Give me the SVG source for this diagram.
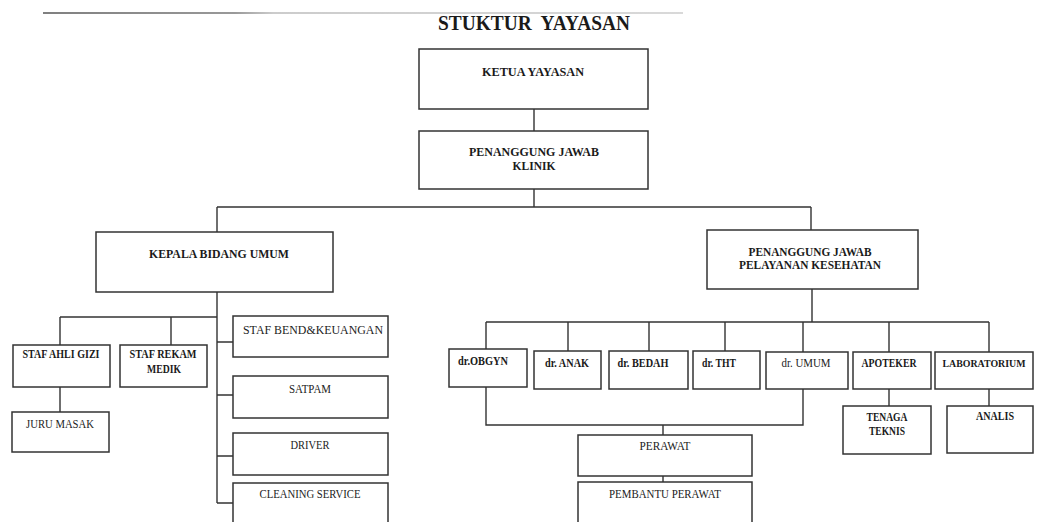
<svg xmlns="http://www.w3.org/2000/svg" width="1043" height="522" viewBox="0 0 1043 522">
<defs>
<linearGradient id="tl" gradientUnits="userSpaceOnUse" x1="43" y1="13" x2="683" y2="13">
<stop offset="0" stop-color="#555"/>
<stop offset="0.3" stop-color="#777"/>
<stop offset="0.36" stop-color="#bbb"/>
<stop offset="1" stop-color="#ccc"/>
</linearGradient>
</defs>
<style>
.box{fill:#fff;stroke:#333;stroke-width:1.5}
.ln{stroke:#333;stroke-width:1.4;fill:none}
text{font-family:"Liberation Serif","Times New Roman",serif;font-size:12.5px;fill:#1a1a1a;font-weight:bold;text-anchor:middle}
.lt{font-weight:normal;fill:#222}
.title{font-size:20px}
.sm{font-size:10.5px}
</style>
<rect width="1043" height="522" fill="#fff"/>
<line x1="43" y1="13" x2="683" y2="13" stroke="url(#tl)" stroke-width="1.3"/>
<text class="title" x="534" y="30" textLength="192" lengthAdjust="spacingAndGlyphs">STUKTUR&#160; YAYASAN</text>

<g id="connectors" class="ln">
<path d="M534 109V131M534 189V207M217 207H811M217 207V232M217 292V503"/>
<path d="M60 317H217M60 317V345M171 317V345M60 387V412"/>
<path d="M217 342H233M217 395H233M217 456H233M217 503H233"/>
<path d="M811 207V230M812 289V322M486 322H989"/>
<path d="M486 322V349M568 322V351M649 322V351M725 322V351M803 322V352M889 322V352M989 322V352"/>
<path d="M486 387V425H803V389M663 425V435M663 476V482"/>
<path d="M889 389V406M989 389V406"/>
</g>

<g id="ketua"><rect class="box" x="419" y="49" width="229" height="60"/><text x="533" y="76" textLength="102" lengthAdjust="spacingAndGlyphs">KETUA YAYASAN</text></g>
<g id="pj-klinik"><rect class="box" x="419" y="131" width="229" height="58"/><text x="534" y="156" textLength="130" lengthAdjust="spacingAndGlyphs">PENANGGUNG JAWAB</text><text x="534" y="170" textLength="43" lengthAdjust="spacingAndGlyphs">KLINIK</text></g>
<g id="kepala-umum"><rect class="box" x="96" y="232" width="237" height="60"/><text x="219" y="258" textLength="140" lengthAdjust="spacingAndGlyphs">KEPALA BIDANG UMUM</text></g>
<g id="ahli-gizi"><rect class="box" x="13" y="345" width="97" height="42"/><text x="61" y="358" textLength="77" lengthAdjust="spacingAndGlyphs">STAF AHLI GIZI</text></g>
<g id="rekam-medik"><rect class="box" x="120" y="345" width="87" height="42"/><text x="163" y="358" textLength="67" lengthAdjust="spacingAndGlyphs">STAF REKAM</text><text x="164" y="373" textLength="34" lengthAdjust="spacingAndGlyphs">MEDIK</text></g>
<g id="juru-masak"><rect class="box" x="12" y="412" width="97" height="40"/><text class="lt" x="60" y="428" textLength="68" lengthAdjust="spacingAndGlyphs">JURU MASAK</text></g>
<g id="bend"><rect class="box" x="233" y="316" width="155" height="41"/><text class="lt" x="313" y="334" textLength="140" lengthAdjust="spacingAndGlyphs">STAF BEND&amp;KEUANGAN</text></g>
<g id="satpam"><rect class="box" x="233" y="376" width="155" height="42"/><text class="lt" x="310" y="393" textLength="42" lengthAdjust="spacingAndGlyphs">SATPAM</text></g>
<g id="driver"><rect class="box" x="233" y="433" width="155" height="42"/><text class="lt" x="310" y="449" textLength="39" lengthAdjust="spacingAndGlyphs">DRIVER</text></g>
<g id="cleaning"><rect class="box" x="233" y="483" width="155" height="50"/><text class="lt" x="310" y="498" textLength="101" lengthAdjust="spacingAndGlyphs">CLEANING SERVICE</text></g>

<g id="pj-pelayanan"><rect class="box" x="707" y="230" width="211" height="59"/><text x="810" y="256" textLength="123" lengthAdjust="spacingAndGlyphs">PENANGGUNG JAWAB</text><text x="810" y="269" textLength="142" lengthAdjust="spacingAndGlyphs">PELAYANAN KESEHATAN</text></g>
<g id="obgyn"><rect class="box" x="449" y="349" width="78" height="38"/><text x="483" y="365" textLength="50" lengthAdjust="spacingAndGlyphs">dr.OBGYN</text></g>
<g id="anak"><rect class="box" x="534" y="351" width="67" height="38"/><text x="567" y="367" textLength="44" lengthAdjust="spacingAndGlyphs">dr. ANAK</text></g>
<g id="bedah"><rect class="box" x="609" y="351" width="79" height="38"/><text x="643" y="367" textLength="51" lengthAdjust="spacingAndGlyphs">dr. BEDAH</text></g>
<g id="tht"><rect class="box" x="693" y="351" width="67" height="38"/><text x="719" y="367" textLength="34" lengthAdjust="spacingAndGlyphs">dr. THT</text></g>
<g id="umum"><rect class="box" x="766" y="352" width="82" height="37"/><text class="lt" x="806" y="367" textLength="49" lengthAdjust="spacingAndGlyphs">dr. UMUM</text></g>
<g id="apoteker"><rect class="box" x="853" y="352" width="78" height="37"/><text x="889" y="367" textLength="55" lengthAdjust="spacingAndGlyphs">APOTEKER</text></g>
<g id="lab"><rect class="box" x="935" y="352" width="98" height="37"/><text class="sm" x="984" y="367" textLength="83" lengthAdjust="spacingAndGlyphs">LABORATORIUM</text></g>
<g id="tenaga"><rect class="box" x="843" y="406" width="88" height="48"/><text x="887" y="421" textLength="41" lengthAdjust="spacingAndGlyphs">TENAGA</text><text x="887" y="435" textLength="36" lengthAdjust="spacingAndGlyphs">TEKNIS</text></g>
<g id="analis"><rect class="box" x="947" y="406" width="86" height="47"/><text x="995" y="420" textLength="38" lengthAdjust="spacingAndGlyphs">ANALIS</text></g>
<g id="perawat"><rect class="box" x="578" y="435" width="174" height="41"/><text class="lt" x="665" y="450" textLength="51" lengthAdjust="spacingAndGlyphs">PERAWAT</text></g>
<g id="pembantu"><rect class="box" x="578" y="482" width="174" height="50"/><text class="lt" x="665" y="498" textLength="112" lengthAdjust="spacingAndGlyphs">PEMBANTU PERAWAT</text></g>
</svg>
